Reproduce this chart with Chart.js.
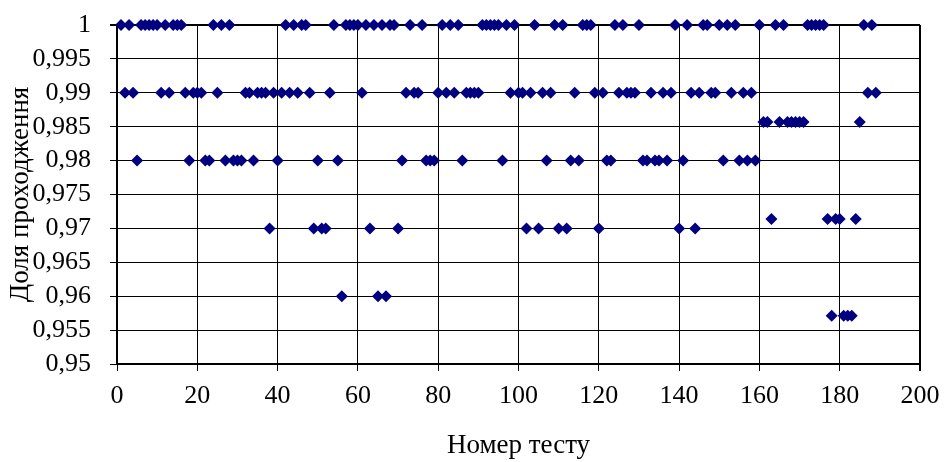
<!DOCTYPE html>
<html>
<head>
<meta charset="utf-8">
<script src="https://cdn.jsdelivr.net/npm/chart.js@4/dist/chart.umd.min.js"></script>
<style>
  body { margin: 0; background: #fff; }
</style>
</head>
<body>
<canvas id="myChart" width="945" height="462"></canvas>
<script>
// номери тестів для кожного рівня частки проходження
const testsAt1000 = [1, 3, 6, 7, 8, 9, 10, 12, 14, 15, 16, 24, 26, 28, 42, 44, 46, 47, 54, 57, 58, 59, 60, 62, 64, 66, 68, 69, 73, 76, 81, 83, 85, 91, 92, 93, 94, 95, 97, 99, 104, 109, 111, 116, 117, 118, 124, 126, 130, 139, 142, 146, 147, 150, 152, 154, 160, 164, 166, 172, 173, 174, 175, 176, 186, 188];
const testsAt0990 = [2, 4, 11, 13, 17, 19, 20, 21, 25, 32, 33, 35, 36, 37, 39, 41, 43, 45, 48, 53, 61, 72, 74, 75, 80, 82, 84, 87, 88, 89, 90, 98, 100, 101, 103, 106, 108, 114, 119, 121, 125, 127, 128, 129, 133, 136, 138, 143, 145, 148, 149, 153, 156, 158, 187, 189];
const testsAt0986 = [161, 162, 165, 167, 168, 169, 170, 171, 185];
const testsAt0980 = [5, 18, 22, 23, 27, 29, 30, 31, 34, 40, 50, 55, 71, 77, 78, 79, 86, 96, 107, 113, 115, 122, 123, 131, 132, 134, 135, 137, 141, 151, 155, 157, 159];
const testsAt0971 = [163, 177, 179, 180, 184];
const testsAt0970 = [38, 49, 51, 52, 63, 70, 102, 105, 110, 112, 120, 140, 144];
const testsAt0960 = [56, 65, 67];
const testsAt0957 = [178, 181, 182, 183];

const shares = [1, 0.99, 0.9857, 0.98, 0.9714, 0.97, 0.96, 0.9571];
const testGroups = [testsAt1000, testsAt0990, testsAt0986, testsAt0980, testsAt0971, testsAt0970, testsAt0960, testsAt0957];

const xTicks = [0, 20, 40, 60, 80, 100, 120, 140, 160, 180, 200];
const yTicks = [0.95, 0.955, 0.96, 0.965, 0.97, 0.975, 0.98, 0.985, 0.99, 0.995, 1];

const puntos = testGroups.flatMap((tests, i) =>
  tests.map((t) => ({ x: t, y: shares[i] }))
);

const fuente = (size) => ({ family: "'Liberation Serif', 'Times New Roman', serif", size: size });

const formatoY = (value) => {
  return Number(value.toFixed(3)).toString().replace(".", ",");
};

const chart = document.querySelector("#myChart");

const config = {
  type: "scatter",
  data: {
    datasets: [
      {
        label: "Доля проходження",
        data: puntos,
        pointStyle: "rectRot",
        pointRadius: 6,
        pointHoverRadius: 6,
        borderWidth: 0,
        backgroundColor: "#000080",
        borderColor: "#000080",
        clip: false,
      },
    ],
  },
  options: {
    responsive: false,
    animation: false,
    layout: { padding: { top: 25, right: 25, left: 0, bottom: 0 } },
    plugins: {
      legend: { display: false },
      tooltip: { enabled: false },
    },
    scales: {
      x: {
        type: "linear",
        min: 0,
        max: 200,
        afterBuildTicks: (scale) => {
          scale.ticks = xTicks.map((v) => ({ value: v }));
        },
        afterFit: (scale) => {
          scale.height = 98;
          scale.paddingLeft = 0;
          scale.paddingRight = 0;
        },
        ticks: {
          color: "#000",
          font: fuente(26),
          padding: 10,
          maxRotation: 0,
          autoSkip: false,
        },
        grid: {
          color: "#000",
          lineWidth: (ctx) => (ctx.tick && ctx.tick.value === 200 ? 2 : 1),
          tickLength: 7,
        },
        border: { color: "#000", width: 2 },
        title: {
          display: true,
          text: "Номер тесту",
          color: "#000",
          font: fuente(27),
          padding: { top: 0, bottom: 0 },
        },
      },
      y: {
        type: "linear",
        min: 0.95,
        max: 1,
        afterBuildTicks: (scale) => {
          scale.ticks = yTicks.map((v) => ({ value: v }));
        },
        afterFit: (scale) => {
          scale.width = 117;
          scale.paddingTop = 0;
          scale.paddingBottom = 0;
        },
        ticks: {
          color: "#000",
          font: fuente(26),
          padding: 19,
          autoSkip: false,
          callback: formatoY,
        },
        grid: {
          color: "#000",
          lineWidth: (ctx) => (ctx.tick && ctx.tick.value === 1 ? 2 : 1),
          tickLength: 7,
        },
        border: { color: "#000", width: 2 },
        title: {
          display: true,
          text: "Доля проходження",
          color: "#000",
          font: fuente(27),
          padding: { top: 5, bottom: 0 },
        },
      },
    },
  },
};

const myChart = new Chart(chart, config);
</script>
</body>
</html>
